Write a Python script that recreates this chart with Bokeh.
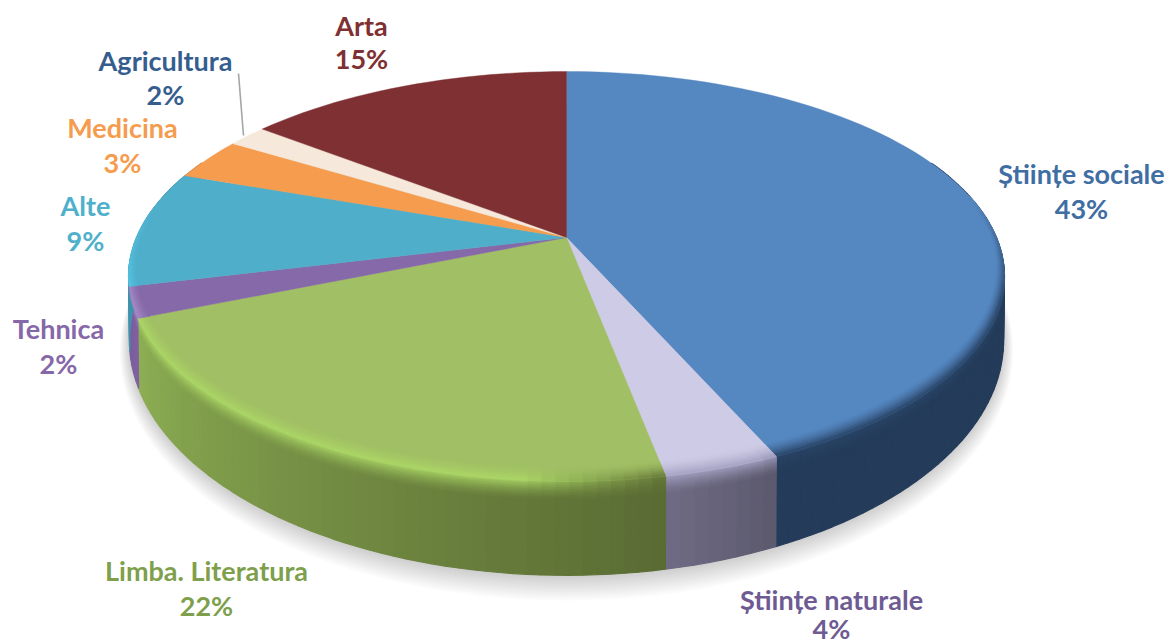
from bokeh.plotting import figure
from bokeh.models import ColumnDataSource
from bokeh.embed import file_html
from bokeh.resources import INLINE
from bokeh.core.properties import value
import numpy as np

# ---- data ----
categories = ["Științe sociale", "Științe naturale", "Limba. Literatura", "Tehnica",
              "Alte", "Medicina", "Agricultura", "Arta"]
shares = [43.4, 3.6, 21.8, 2.4, 9.2, 3.35, 1.75, 14.5]
percent_labels = ["43%", "4%", "22%", "2%", "9%", "3%", "2%", "15%"]

# ---- styles ----
top_colors = ["#5587C0", "#CDCBE5", "#A1BF64", "#8669A8", "#4FAFCB", "#F59C4E", "#F6E8DA", "#7F3032"]
edge_start = ["#2A4568", "#9C99BC", "#66783A", "#A78AC8", "#55C8E8", "#F8A85C", "#F6E8DA", "#7F3032"]
edge_end = ["#2A4568", "#A6A3C4", "#ABD666", "#A78AC8", "#55C8E8", "#F8A85C", "#F6E8DA", "#7F3032"]
wall_start = ["#243C5A", "#5B596D", "#5A6B33", "#8062A2", "#3F93AD", "#C87F3E", "#CDBFB2", "#5F2426"]
wall_end = ["#243C5A", "#6F6B85", "#8DAF54", "#7A5C9C", "#3F93AD", "#C87F3E", "#CDBFB2", "#5F2426"]
text_colors = ["#3F6EA3", "#6F5B94", "#7E9F4C", "#8667A8", "#4FB0CB", "#F59C4E", "#355E8F", "#7F3032"]
label_x = [1081, 831, 206, 58, 85, 122, 165, 361]
label_y = [173, 599, 570, 328, 205, 127, 60, 25]
pct_y = [208, 628, 605, 363, 240, 162, 94, 58]

# ---- projection of the pie disc ----
CX, APEX_Y, A, B, K = 566.0, 237.0, 197.5, 430.0, 0.19
TOP_CY, TOP_RY, BOT_CY, BOT_RY = 276.0, 205.0, 340.0, 235.0
EDGE_FADE = 5.0


def top_pt(theta, r=1.0):
    u, v = r * np.sin(theta), r * np.cos(theta)
    w = 1 + K * v
    return CX + B * u / w, APEX_Y - A * v / w


def bot_pt(theta):
    x, y = top_pt(theta)
    return CX + (x - CX) * 0.998, BOT_CY + (y - TOP_CY) * BOT_RY / TOP_RY


def rgb(h):
    return np.array([int(h[i:i + 2], 16) for i in (1, 3, 5)], dtype=float)


def mix(c1, c2, t):
    c = rgb(c1) * (1 - t) + rgb(c2) * t
    return "#%02x%02x%02x" % tuple(int(round(q)) for q in c)


p = figure(width=1169, height=644, x_range=(0, 1169), y_range=(644, 0),
           output_backend="svg", toolbar_location=None, min_border=0,
           background_fill_color="white", border_fill_color="white")
p.axis.visible = False
p.grid.visible = False
p.outline_line_color = None

# soft ground shadow
circle = np.linspace(0, 2 * np.pi, 181)
bx, by = bot_pt(circle)
sh_xs, sh_ys = [], []
for d in np.linspace(24, 2, 12):
    sh_xs.append(list(CX + (bx - CX) * (1 + 0.4 * d / 437)))
    sh_ys.append(list(BOT_CY + (by - BOT_CY) * (1 + 0.6 * d / 235) + 0.45 * d))
p.patches(sh_xs, sh_ys, fill_color="#606060", fill_alpha=0.022, line_color=None)

edges = np.concatenate([[0], np.cumsum(shares)]) / np.sum(shares) * 2 * np.pi


def strength(theta):
    return np.clip((0.2 - np.cos(theta)) / 0.5, 0, 1)


def rim_width(theta):
    return 0.012 + 0.04 * max(0.0, -np.cos(theta))


# side walls
N_BLEND = 9
BLEND_SPAN = 0.2
WALL_BANDS = list(np.linspace(0, BLEND_SPAN, N_BLEND + 1)) + [1.0]
xs, ys, cols = [], [], []
for i in range(len(shares)):
    a0, a1 = edges[i], edges[i + 1]
    n = max(2, int((a1 - a0) / np.radians(1.5)))
    th = np.linspace(a0, a1, n + 1)
    for j in range(n):
        ta, tb = th[j], th[j + 1]
        if np.cos(ta) > 0.4 and np.cos(tb) > 0.4:
            continue
        f = (j + 0.5) / n
        wall = mix(wall_start[i], wall_end[i], f)
        edge = mix(edge_start[i], edge_end[i], min(1.0, f * EDGE_FADE))
        xa, ya = top_pt(ta)
        xb, yb = top_pt(tb)
        xc, yc = bot_pt(tb)
        xd, yd = bot_pt(ta)
        for q in range(len(WALL_BANDS) - 1):
            s0, s1 = WALL_BANDS[q], WALL_BANDS[q + 1]
            xs.append([xa + (xd - xa) * s0, xb + (xc - xb) * s0, xb + (xc - xb) * s1, xa + (xd - xa) * s1])
            ys.append([ya + (yd - ya) * s0, yb + (yc - yb) * s0, yb + (yc - yb) * s1, ya + (yd - ya) * s1])
            blend = (1 - min(1.0, s0 / BLEND_SPAN)) ** 1.5
            cols.append(mix(wall, edge, blend * 0.85 * strength(ta)))
p.patches(xs="xs", ys="ys", fill_color="cols", line_color="cols", line_width=1.2,
          source=ColumnDataSource(dict(xs=xs, ys=ys, cols=cols)))

# top faces
xs, ys, cols = [], [], []
for i in range(len(shares)):
    a0, a1 = edges[i], edges[i + 1]
    th = np.linspace(a0, a1, max(3, int((a1 - a0) / np.radians(2)) + 1))
    x, y = top_pt(th, 1.0)
    xs.append([CX] + list(x))
    ys.append([APEX_Y] + list(y))
    cols.append(top_colors[i])
p.patches(xs="xs", ys="ys", fill_color="cols", line_color="cols", line_width=0.4,
          source=ColumnDataSource(dict(xs=xs, ys=ys, cols=cols)))

# rim bevel
N_RINGS = 8
xs, ys, cols = [], [], []
for i in range(len(shares)):
    a0, a1 = edges[i], edges[i + 1]
    n = max(2, int((a1 - a0) / np.radians(1.5)))
    th = np.linspace(a0, a1, n + 1)
    for j in range(n):
        ta, tb = th[j], th[j + 1]
        s = strength((ta + tb) / 2)
        if s <= 0:
            continue
        edge = mix(edge_start[i], edge_end[i], min(1.0, ((j + 0.5) / n) * EDGE_FADE))
        wa, wb = rim_width(ta), rim_width(tb)
        for q in range(N_RINGS):
            f0, f1 = 1 - q / N_RINGS, 1 - (q + 1) / N_RINGS
            x1, y1 = top_pt(ta, 1 - wa * f0)
            x2, y2 = top_pt(tb, 1 - wb * f0)
            x3, y3 = top_pt(tb, 1 - wb * f1)
            x4, y4 = top_pt(ta, 1 - wa * f1)
            xs.append([x1, x2, x3, x4])
            ys.append([y1, y2, y3, y4])
            t = ((q + 0.5) / N_RINGS) ** 1.5
            cols.append(mix(top_colors[i], edge, t * s))
p.patches(xs="xs", ys="ys", fill_color="cols", line_color="cols", line_width=0.8,
          source=ColumnDataSource(dict(xs=xs, ys=ys, cols=cols)))

# leader line for Agricultura
p.line([238, 243], [73, 135], line_color="#A6A6A6", line_width=1.6)

# labels
p.text(label_x, label_y, text=categories, text_color=text_colors, text_align="center",
       text_baseline="middle", text_font=value("Lato"), text_font_style="bold", text_font_size="27px")
p.text(label_x, pct_y, text=percent_labels, text_color=text_colors, text_align="center",
       text_baseline="middle", text_font=value("Lato"), text_font_style="bold", text_font_size="27px")

open("out.html", "w").write(file_html(p, INLINE))
